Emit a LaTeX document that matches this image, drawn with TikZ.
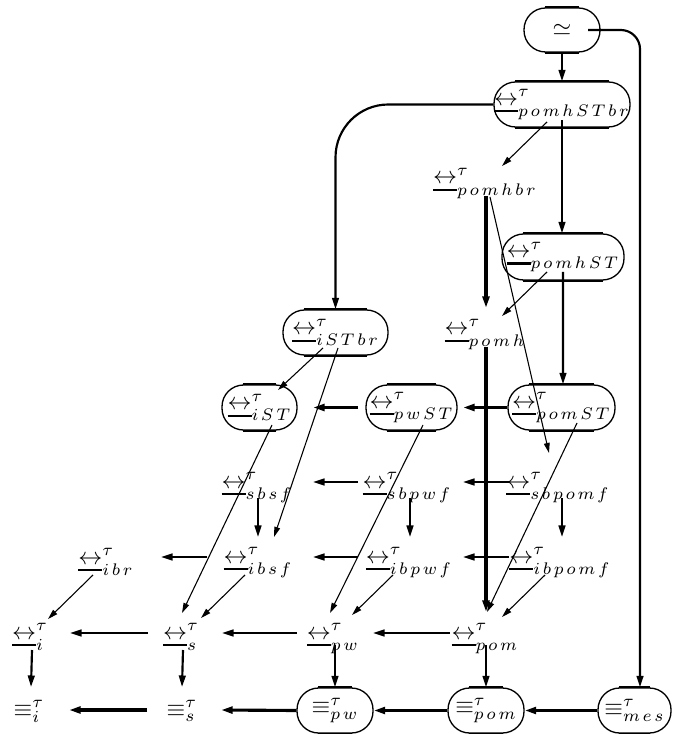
\documentclass[tikz,border=0pt]{standalone}
\usetikzlibrary{arrows.meta}
\newcommand\pxu{0.41667pt}
\newcommand\ulsym[1]{\vtop{\hbox{$#1$}\kern1.9pt\hrule height 1pt\kern1.2pt}}
\newcommand\bis{\ulsym{\leftrightarrow}}
\newcommand\g{\mskip2.4mu}
\newcommand\bsym[1]{${\bis}^{\tau}_{#1}$}
\newcommand\esym[1]{$\equiv^{\tau}_{#1}$}
\begin{document}
\begin{tikzpicture}[x=0.41667pt,y=-0.41667pt,
  pill/.style={draw,line width=0.55pt,rounded corners=9pt,inner sep=0pt,minimum height=45*\pxu},
  lbl/.style={inner sep=0pt,anchor=base},
  ar/.style={-{Triangle[length=4.8pt,width=2.8pt]}},
  art/.style={-{Triangle[length=4.2pt,width=2.4pt]}},
  thk/.style={line width=1.3pt},
  med/.style={line width=0.9pt},
  thn/.style={line width=0.45pt},
  flat/.style={line width=0.9pt}]
\useasboundingbox (0,0) rectangle (673,734);
% nodes
\node[pill,minimum width=76*\pxu,minimum height=44*\pxu] (simeq) at (562,30) {$\simeq$};
\node[pill,minimum width=136*\pxu] (pomhSTbr) at (562,104.5) {\bsym{p\g o\g m\g h\g S\g T\g b\g r}};
\node[lbl] (pomhbr) at (485,184) {\bsym{p\g o\g m\g h\g b\g r}};
\node[pill,minimum width=122*\pxu,minimum height=46*\pxu] (pomhST) at (563,257) {\bsym{p\g o\g m\g h\g S\g T}};
\node[lbl] (pomh) at (485,335) {\bsym{p\g o\g m\g h}};
\node[pill,minimum width=105*\pxu] (iSTbr) at (335.5,332.5) {\bsym{i\g S\g T\g b\g r}};
\node[pill,minimum width=75*\pxu] (iST) at (259.5,407.5) {\bsym{i\g S\g T}};
\node[pill,minimum width=91*\pxu] (pwST) at (411.5,407.5) {\bsym{p\g w\g S\g T}};
\node[pill,minimum width=107*\pxu] (pomST) at (561.5,407.5) {\bsym{p\g o\g m\g S\g T}};
\node[lbl] (sbsf) at (257,488) {\bsym{s\g b\g s\g f}};
\node[lbl] (sbpwf) at (407,488) {\bsym{s\g b\g p\g w\g f}};
\node[lbl] (sbpomf) at (558,488) {\bsym{s\g b\g p\g o\g m\g f}};
\node[lbl] (ibr) at (106,564) {\bsym{i\g b\g r}};
\node[lbl] (ibsf) at (258,563) {\bsym{i\g b\g s\g f}};
\node[lbl] (ibpwf) at (409,563) {\bsym{i\g b\g p\g w\g f}};
\node[lbl] (ibpomf) at (560,563) {\bsym{i\g b\g p\g o\g m\g f}};
\node[lbl] (i) at (30,639) {\bsym{i}};
\node[lbl] (s) at (181,639) {\bsym{s}};
\node[lbl] (pw) at (333,639) {\bsym{p\g w}};
\node[lbl] (pom) at (485,639) {\bsym{p\g o\g m}};
\node[lbl] (eqi) at (29,716) {\esym{i}};
\node[lbl] (eqs) at (182,716) {\esym{s}};
\node[pill,minimum width=76*\pxu] (eqpw) at (335,710.5) {\esym{p\g w}};
\node[pill,minimum width=76*\pxu] (eqpom) at (486,710.5) {\esym{p\g o\g m}};
\node[pill,minimum width=73*\pxu] (eqmes) at (634.5,710.5) {\esym{m\g e\g s}};
% thicker flat edges of the boxes
\foreach \n in {simeq,pomhSTbr,pomhST,iSTbr,iST,pwST,pomST,eqpw,eqpom,eqmes}{
  \draw[flat] ([xshift=9pt]\n.north west) -- ([xshift=-9pt]\n.north east)
              ([xshift=9pt]\n.south west) -- ([xshift=-9pt]\n.south east);}
% top part
\draw[med,ar] (simeq.south) -- (pomhSTbr.north);
\draw[med,ar,rounded corners=8pt] ([shift={(26,0)}]simeq.center) -| ([shift={(5.5,0)}]eqmes.north);
\draw[med,ar,rounded corners=22pt] (pomhSTbr.west) -| (iSTbr.north);
\draw[thn,art] ([shift={(-15,17.5)}]pomhSTbr.center) -- ([shift={(17,-18)}]pomhbr.base);
\draw[med,ar] ([shift={(0,15.5)}]pomhSTbr.center) -- ([shift={(-1,0)}]pomhST.north);
\draw[thk,ar] ([shift={(1,12)}]pomhbr.base) -- ([shift={(1,-27)}]pomh.base);
\draw[thn,art] ([shift={(5,13)}]pomhbr.base) -- ([shift={(-9,-35)}]sbpomf.base);
\draw[thn,art] ([shift={(-16,15)}]pomhST.center) -- ([shift={(17,-19)}]pomh.base);
\draw[med,ar] ([shift={(0,15)}]pomhST.center) -- ([shift={(1.5,0)}]pomST.north);
\draw[thk,ar] ([shift={(1,12)}]pomh.base) -- ([shift={(1,-27)}]pom.base);
% ST row
\draw[thn,art] ([shift={(-12.5,15.5)}]iSTbr.center) -- ([shift={(18.5,-17.5)}]iST.center);
\draw[thn,art] ([shift={(2.5,15.5)}]iSTbr.center) -- ([shift={(16,-26)}]ibsf.base);
\draw[thk,ar] ([shift={(-53.5,0)}]pwST.center) -- ([shift={(53.5,0)}]iST.center);
\draw[thk,ar] (pomST.west) -- ([shift={(51.5,0)}]pwST.center);
\draw[thn,art] ([shift={(12.5,17.5)}]iST.center) -- ([shift={(1,-26)}]s.base);
\draw[thn,art] ([shift={(11.5,17.5)}]pwST.center) -- ([shift={(-3,-26)}]pw.base);
\draw[thn,art] ([shift={(15.5,15.5)}]pomST.center) -- ([shift={(2,-27)}]pom.base);
% sb row
\draw[med,ar] ([shift={(1,10)}]sbsf.base) -- ([shift={(0,-26)}]ibsf.base);
\draw[med,ar] ([shift={(3,10)}]sbpwf.base) -- ([shift={(1,-26)}]ibpwf.base);
\draw[med,ar] ([shift={(4,10)}]sbpomf.base) -- ([shift={(2,-26)}]ibpomf.base);
\draw[med,ar] ([shift={(-49,-6)}]sbpwf.base) -- ([shift={(56,-6)}]sbsf.base);
\draw[med,ar] ([shift={(-49,-6)}]sbpomf.base) -- ([shift={(56,-6)}]sbpwf.base);
% ib row
\draw[med,ar] ([shift={(-51,-6)}]ibsf.base) -- ([shift={(55,-7)}]ibr.base);
\draw[med,ar] ([shift={(-51,-6)}]ibpwf.base) -- ([shift={(55,-6)}]ibsf.base);
\draw[med,ar] ([shift={(-51,-6)}]ibpomf.base) -- ([shift={(54,-6)}]ibpwf.base);
\draw[thn,art] ([shift={(-13,11)}]ibr.base) -- ([shift={(18,-20)}]i.base);
\draw[thn,art] ([shift={(-13,12)}]ibsf.base) -- ([shift={(20,-21)}]s.base);
\draw[thn,art] ([shift={(-16,12)}]ibpwf.base) -- ([shift={(19,-24)}]pw.base);
\draw[thn,art] ([shift={(-15,12)}]ibpomf.base) -- ([shift={(17,-22)}]pom.base);
% bisimulation row
\draw[med,ar] ([shift={(-33,-6)}]s.base) -- ([shift={(40,-6)}]i.base);
\draw[med,ar] ([shift={(-36,-6)}]pw.base) -- ([shift={(41,-6)}]s.base);
\draw[med,ar] ([shift={(-35,-6)}]pom.base) -- ([shift={(40,-6)}]pw.base);
\draw[med,ar] ([shift={(2,11)}]i.base) -- ([shift={(2,-29)}]eqi.base);
\draw[med,ar] ([shift={(2,11)}]s.base) -- ([shift={(0,-29)}]eqs.base);
\draw[med,ar] ([shift={(2,6)}]pw.base) -- (eqpw.north);
\draw[med,ar] ([shift={(1,6)}]pom.base) -- (eqpom.north);
% equivalence row
\draw[thk,ar] ([shift={(-35,-6)}]eqs.base) -- ([shift={(40,-6)}]eqi.base);
\draw[thk,ar] (eqpw.west) -- ([shift={(39,-6)}]eqs.base);
\draw[thk,ar] (eqpom.west) -- (eqpw.east);
\draw[thk,ar] (eqmes.west) -- (eqpom.east);
\end{tikzpicture}
\end{document}
